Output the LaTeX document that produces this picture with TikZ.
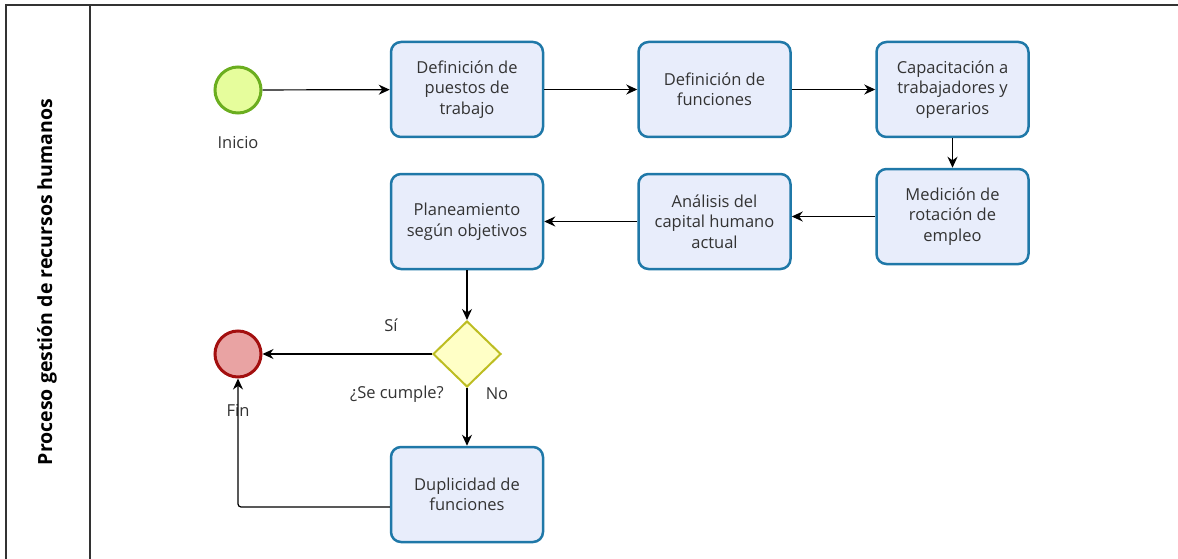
\documentclass[tikz,border=0pt]{standalone}
\usepackage{fontspec}
\setmainfont{Open Sans}
\usetikzlibrary{arrows.meta,shapes.geometric}
\definecolor{boxfill}{HTML}{E8EDFB}
\definecolor{boxline}{HTML}{1F78A8}
\definecolor{iniciofill}{HTML}{E6FD9C}
\definecolor{inicioline}{HTML}{6BAE1F}
\definecolor{finfill}{HTML}{E9A3A3}
\definecolor{finline}{HTML}{A30F0F}
\definecolor{decfill}{HTML}{FFFFC6}
\definecolor{decline}{HTML}{BDBD22}
\definecolor{marco}{HTML}{333333}
\tikzset{
  tarea/.style={draw=boxline, fill=boxfill, line width=2.5pt, rounded corners=10pt,
    minimum width=152pt, minimum height=95pt, align=center,
    text=black!80, font=\fontsize{16.5}{20.5}\selectfont},
  evento/.style={circle, minimum size=46pt, inner sep=0pt, line width=3pt},
  flecha/.style={-{Stealth[length=11pt,width=10pt]}, line width=1.2pt},
  etiqueta/.style={text=black!80, font=\fontsize{16.5}{20}\selectfont},
}
\begin{document}
\begin{tikzpicture}[x=1pt,y=-1pt]
\useasboundingbox (0,0) rectangle (1178,559);
\draw[marco, line width=2pt] (6,559) -- (6,5) -- (1178,5);
\draw[marco, line width=2pt] (90,5) -- (90,559);
\node[rotate=90, font=\bfseries\fontsize{19.5}{22}\selectfont] (titulo) at (47,282) {Proceso gestión de recursos humanos};

\node[evento, draw=inicioline, fill=iniciofill] (inicio) at (238,90) {};
\node[etiqueta] (linicio) at (238,143) {Inicio};
\node[tarea] (puestos) at (467,89.5) {Definición de\\puestos de\\trabajo};
\node[tarea] (funciones) at (714.5,89.5) {Definición de\\funciones};
\node[tarea] (cap) at (952.5,89.5) {Capacitación a\\trabajadores y\\operarios};
\node[tarea] (med) at (952.5,216.5) {Medición de\\rotación de\\empleo};
\node[tarea] (ana) at (714.5,221.5) {Análisis del\\capital humano\\actual};
\node[tarea] (plan) at (467,221.5) {Planeamiento\\según objetivos};
\node[diamond, draw=decline, fill=decfill, line width=2pt, minimum width=68pt, minimum height=66pt, inner sep=0pt] (dec) at (467,354) {};
\node[evento, draw=finline, fill=finfill] (fin) at (238,354) {};
\node[etiqueta] (lfin) at (238,410) {Fin};
\node[etiqueta] (lsi) at (391,325) {Sí};
\node[etiqueta] (lcumple) at (397,394) {¿Se cumple?};
\node[etiqueta] (lno) at (497,394) {No};
\node[tarea] (dup) at (467,494.5) {Duplicidad de\\funciones};

\draw[flecha] (inicio) -- (puestos);
\draw[flecha] (puestos) -- (funciones);
\draw[flecha] (funciones) -- (cap);
\draw[flecha] (cap) -- (med);
\draw[flecha] (med.west) -- (med.west -| ana.east);
\draw[flecha] (ana) -- (plan);
\draw[flecha] (plan) -- (dec);
\draw[flecha] (dec) -- (fin);
\draw[flecha] (dec) -- (dup);
\draw[flecha, rounded corners=3pt] ([yshift=-12.5pt]dup.west) -| (fin.south);
\end{tikzpicture}
\end{document}
